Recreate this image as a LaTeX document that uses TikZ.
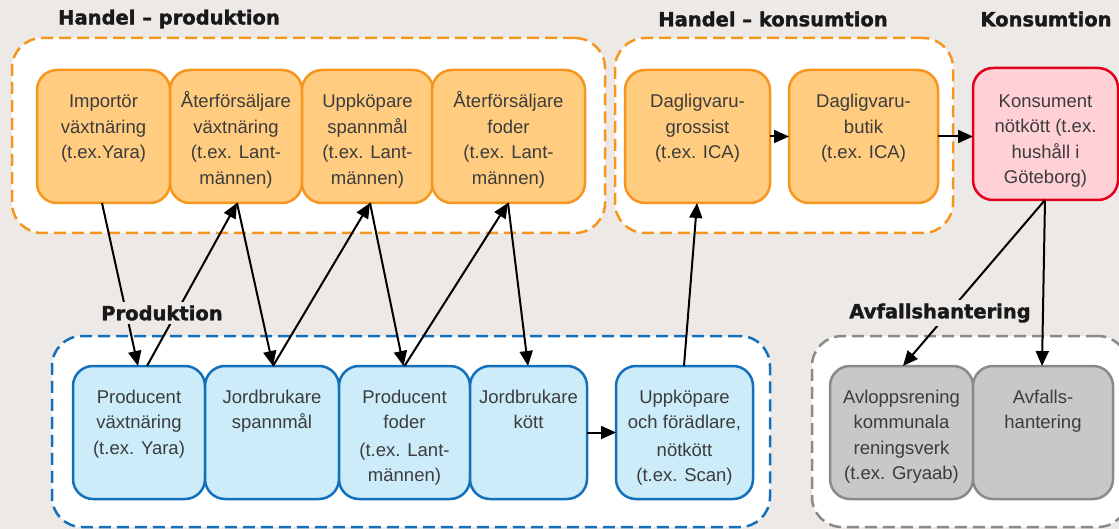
\documentclass[tikz,border=0pt]{standalone}
\usepackage{fontspec}
\setmainfont{Liberation Sans}
\newfontfamily\titlefont{DejaVu Sans}[BoldFeatures={FakeBold=1.6}]
\usetikzlibrary{arrows.meta,calc}
\definecolor{bg}{RGB}{236,233,230}
\definecolor{ofill}{RGB}{255,204,128}
\definecolor{oline}{RGB}{247,150,30}
\definecolor{bfill}{RGB}{204,236,250}
\definecolor{bline}{RGB}{20,112,186}
\definecolor{gfill}{RGB}{200,200,202}
\definecolor{gline}{RGB}{138,138,138}
\definecolor{rfill}{RGB}{255,209,214}
\definecolor{rline}{RGB}{226,0,26}
\definecolor{txtc}{RGB}{60,60,60}
\tikzset{
  grp/.style={draw, dash pattern=on 12pt off 6pt, line width=2.5pt, rounded corners=30pt, fill=white, inner sep=0pt, outer sep=0pt},
  bx/.style={draw, line width=2.5pt, rounded corners=20pt, minimum height=133pt, inner sep=0pt, outer sep=0pt},
  ob/.style={bx, draw=oline, fill=ofill},
  bb/.style={bx, draw=bline, fill=bfill},
  gb/.style={bx, draw=gline, fill=gfill},
  rb/.style={bx, draw=rline, fill=rfill},
  txt/.style={anchor=north, align=center, inner sep=0pt, font=\fontsize{18.5}{25.5}\selectfont, text=txtc},
  ttl/.style={font=\titlefont\bfseries\fontsize{19.5}{22}\selectfont, text=black!90, inner sep=3pt},
  arr/.style={-{Triangle[length=15pt,width=13pt]}, line width=2pt, black}
}
\begin{document}
\begin{tikzpicture}[x=1pt,y=-1pt]
\fill[bg] (0,0) rectangle (1119,529);
\useasboundingbox (0,0) rectangle (1119,529);

% groups
\node[grp, draw=oline, minimum width=593pt, minimum height=195pt] (ghp) at (308.5,135.5) {};
\node[grp, draw=oline, minimum width=338pt, minimum height=195pt] (ghk) at (784,135.5) {};
\node[grp, draw=bline, minimum width=718pt, minimum height=191pt] (gpr) at (411,431.5) {};
\node[grp, draw=gline, minimum width=316pt, minimum height=191pt] (gav) at (970,431.5) {};

% titles
\node[ttl] (thp) at (169,19) {Handel – produktion};
\node[ttl] (thk) at (773,19) {Handel – konsumtion};
\node[ttl] (tko) at (1046,19) {Konsumtion};

% orange boxes
\node[ob, minimum width=133pt] (imp) at (103.5,136.5) {};
\node[ob, minimum width=132pt] (avx) at (236,136.5) {};
\node[ob, minimum width=131pt] (upps) at (367.5,136.5) {};
\node[ob, minimum width=153pt] (afo) at (508.5,136.5) {};
\node[ob, minimum width=145pt] (gro) at (697.5,136.5) {};
\node[ob, minimum width=149pt] (but) at (863.5,136.5) {};
\node[rb, minimum width=145pt, minimum height=132pt] (kon) at (1045.5,134) {};

% blue boxes
\node[bb, minimum width=132pt] (pv) at (139,432.5) {};
\node[bb, minimum width=134pt] (js) at (272,432.5) {};
\node[bb, minimum width=131pt] (pf) at (404.5,432.5) {};
\node[bb, minimum width=117pt] (jk) at (528.5,432.5) {};
\node[bb, minimum width=137pt] (upf) at (684.5,432.5) {};

% gray boxes
\node[gb, minimum width=143pt] (avl) at (901.5,432.5) {};
\node[gb, minimum width=140pt] (avf) at (1043,432.5) {};

% texts
\node[txt] (imp-t) at ([yshift=-19.7pt]imp.north) {\strut Importör\\växtnäring\\(t.ex.Yara)};
\node[txt] (avx-t) at ([yshift=-19.7pt]avx.north) {\strut Återförsäljare\\växtnäring\\(t.ex. Lant-\\männen)};
\node[txt] (upps-t) at ([yshift=-19.7pt]upps.north) {\strut Uppköpare\\spannmål\\(t.ex. Lant-\\männen)};
\node[txt] (afo-t) at ([yshift=-19.7pt]afo.north) {\strut Återförsäljare\\foder\\(t.ex. Lant-\\männen)};
\node[txt] (gro-t) at ([yshift=-19.7pt]gro.north) {\strut Dagligvaru-\\grossist\\(t.ex. ICA)};
\node[txt] (but-t) at ([yshift=-19.7pt]but.north) {\strut Dagligvaru-\\butik\\(t.ex. ICA)};
\node[txt] (kon-t) at ([yshift=-21pt]kon.north) {\strut Konsument\\nötkött (t.ex.\\hushåll i\\Göteborg)};

\node[txt] (pv-t) at ([yshift=-19.2pt]pv.north) {\strut Producent\\växtnäring\\(t.ex. Yara)};
\node[txt] (js-t) at ([yshift=-19.2pt]js.north) {\strut Jordbrukare\\spannmål};
\node[txt] (pf-t) at ([yshift=-19.2pt]pf.north) {\strut Producent\\foder\\[2pt](t.ex. Lant-\\männen)};
\node[txt] (jk-t) at ([yshift=-19.2pt]jk.north) {\strut Jordbrukare\\kött};
\node[txt] (upf-t) at ([yshift=-19.2pt]upf.north) {\strut Uppköpare\\och förädlare,\\[2pt]nötkött\\(t.ex. Scan)};

\node[txt] (avl-t) at ([yshift=-19.2pt]avl.north) {\strut Avloppsrening\\kommunala\\reningsverk\\(t.ex. Gryaab)};
\node[txt] (avf-t) at ([yshift=-19.2pt]avf.north) {\strut Avfalls-\\hantering};

% arrows
\draw[arr] ([xshift=-1.5pt]imp.south) -- ([xshift=-1pt]pv.north);
\draw[arr] ([xshift=8pt]pv.north) -- ([xshift=1pt]avx.south);
\draw[arr] ([xshift=1pt]avx.south) -- ([xshift=1pt]js.north);
\draw[arr] ([xshift=1pt]js.north) -- ([xshift=2.5pt]upps.south);
\draw[arr] ([xshift=2.5pt]upps.south) -- ([xshift=-1pt]pf.north);
\draw[arr] ([xshift=0pt]pf.north) -- ([xshift=-0.5pt]afo.south);
\draw[arr] ([xshift=-0.5pt]afo.south) -- ([xshift=-0.5pt]jk.north);
\draw[arr] ([xshift=-0.5pt]upf.north) -- ([xshift=-0.5pt]gro.south);
\draw[arr] (gro.east) -- (but.west);
\draw[arr] (but.east) -- (but.east -| kon.west);
\draw[arr] (jk.east) -- (upf.west);
\draw[arr] ([xshift=-0.5pt]kon.south) -- ([xshift=1.5pt]avl.north);
\draw[arr] ([xshift=-0.5pt]kon.south) -- ([xshift=-1pt]avf.north);

% section labels over the arrows
\node[ttl, fill=bg] (tpr) at (162,313) {Produktion};
\node[ttl, fill=bg] (tav) at (940,313) {Avfallshantering};
\end{tikzpicture}
\end{document}
